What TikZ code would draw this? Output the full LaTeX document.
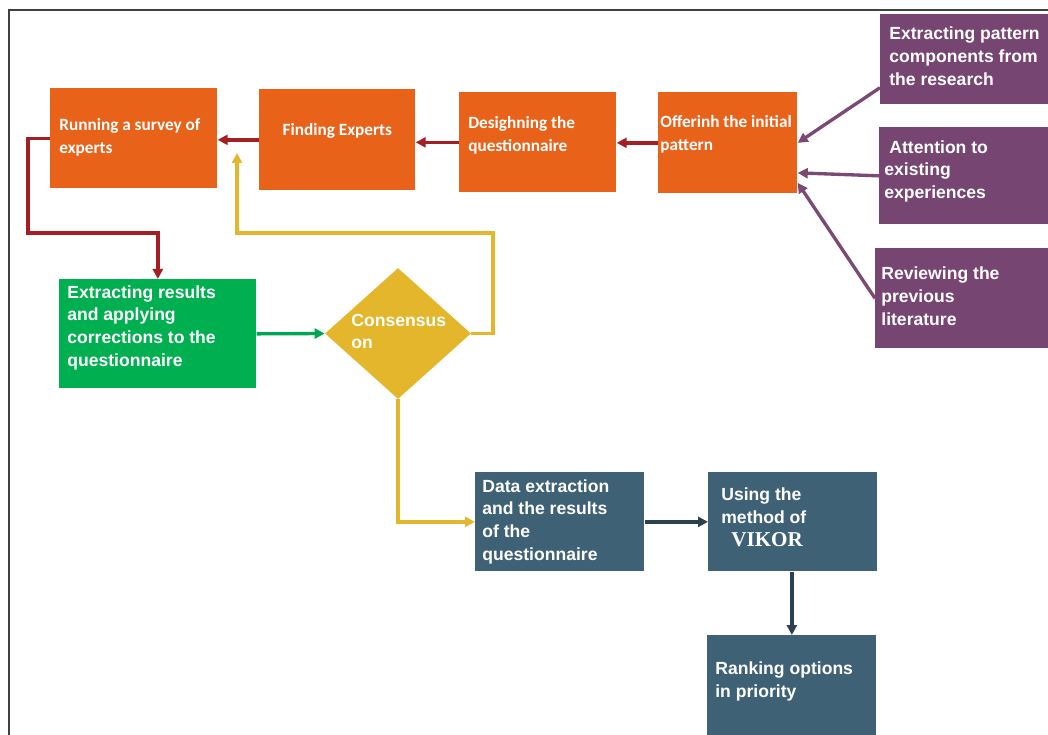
\documentclass[tikz,border=0pt]{standalone}
\usepackage{fontspec}
\setmainfont{Liberation Sans}
\newfontfamily\calibri{Carlito}
\newfontfamily\timesfont{Liberation Serif}
\usetikzlibrary{shapes.geometric,arrows.meta}

\definecolor{boxorange}{HTML}{E8621A}
\definecolor{boxpurple}{HTML}{764571}
\definecolor{boxgreen}{HTML}{00B050}
\definecolor{boxgold}{HTML}{E4B62B}
\definecolor{boxteal}{HTML}{3F6175}
\definecolor{arrowred}{HTML}{A31F24}
\definecolor{arrowdark}{HTML}{2B4150}
\definecolor{arrowpurple}{HTML}{7A4A74}
\definecolor{arrowgreen}{HTML}{00A651}

\tikzset{
  box/.style={rectangle, anchor=north west, inner sep=0pt},
  orangebox/.style={box, fill=boxorange},
  purplebox/.style={box, fill=boxpurple},
  greenbox/.style={box, fill=boxgreen},
  tealbox/.style={box, fill=boxteal},
  boxtext/.style={anchor=west, align=left, inner sep=0pt, text=white,
    font=\fontsize{10}{13}\selectfont\bfseries},
  orangetext/.style={boxtext, font=\calibri\fontsize{9.8}{13.6}\selectfont\bfseries},
  link/.style={->, line width=1.9pt}
}

\begin{document}
\begin{tikzpicture}[>={Triangle[length=2mm,width=2mm]}]

\useasboundingbox (0,0) rectangle (20.96,-14.7);
\draw[line width=0.7pt, black!75] (0.18,-14.7) -- (0.18,-0.2) -- (20.96,-0.2);

% top row
\node[orangebox, minimum width=3.34cm, minimum height=2cm] (survey) at (1.00,-1.76) {};
\node[orangebox, minimum width=3.12cm, minimum height=2.02cm] (experts) at (5.18,-1.78) {};
\node[orangebox, minimum width=3.14cm, minimum height=2cm] (design) at (9.18,-1.84) {};
\node[orangebox, minimum width=2.78cm, minimum height=2.02cm] (offer) at (13.16,-1.84) {};
\node[orangetext] (survey-t) at ([xshift=0.18cm, yshift=0.02cm]survey.west) {Running a survey of\\experts};
\node[orangetext, anchor=center] (experts-t) at ([yshift=0.17cm]experts.center) {Finding Experts};
\node[orangetext] (design-t) at ([xshift=0.18cm, yshift=0.14cm]design.west) {Desighning the\\questionnaire};
\node[orangetext] (offer-t) at ([xshift=0.04cm, yshift=0.17cm]offer.west) {Offerinh the initial\\pattern};

% sources of the pattern
\node[purplebox, minimum width=3.6cm, minimum height=1.8cm] (research) at (17.60,-0.28) {};
\node[purplebox, minimum width=3.6cm, minimum height=1.94cm] (experience) at (17.58,-2.54) {};
\node[purplebox, minimum width=3.6cm, minimum height=2cm] (literature) at (17.50,-4.96) {};
\node[boxtext] (research-t) at ([xshift=0.18cm, yshift=0.06cm]research.west) {Extracting pattern\\components from\\the research};
\node[boxtext] (experience-t) at ([xshift=0.1cm, yshift=0.09cm]experience.west) {\hspace*{0.1cm}Attention to\\existing\\experiences};
\node[boxtext] (literature-t) at ([xshift=0.12cm, yshift=0.04cm]literature.west) {Reviewing the\\previous\\literature};

% consensus loop
\node[greenbox, minimum width=3.94cm, minimum height=2.18cm] (results) at (1.18,-5.58) {};
\node[boxtext] (results-t) at ([xshift=0.16cm, yshift=0.12cm]results.west) {Extracting results\\and applying\\corrections to the\\questionnaire};
\node[diamond, fill=boxgold, minimum width=2.92cm, minimum height=2.62cm, inner sep=0pt] (consensus) at (7.96,-6.67) {};
\node[boxtext] (consensus-t) at (7.02,-6.63) {Consensus\\on};

% final steps
\node[tealbox, minimum width=3.38cm, minimum height=1.98cm] (data) at (9.50,-9.44) {};
\node[tealbox, minimum width=3.38cm, minimum height=1.98cm] (vikor) at (14.16,-9.44) {};
\node[tealbox, minimum width=3.38cm, minimum height=2cm] (ranking) at (14.14,-12.70) {};
\node[boxtext] (data-t) at ([xshift=0.14cm]data.west) {Data extraction\\and the results\\of the\\questionnaire};
\node[boxtext] (vikor-t) at ([xshift=0.26cm, yshift=0.09cm]vikor.west)
  {Using the\\method of\\\hspace*{0.2cm}{\timesfont\fontsize{12}{13}\selectfont VIKOR}};
\node[boxtext] (ranking-t) at ([xshift=0.16cm, yshift=0.07cm]ranking.west) {Ranking options\\in priority};

\coordinate (downbend) at (0.56,-4.66);
\coordinate (loopturn) at (9.86,-4.66);
\coordinate (loopend) at (4.74,-3.06);

\draw[link, arrowred] (experts.west) -- (survey.east |- experts.west);
\draw[link, arrowred] (design.west) -- (experts.east |- design.west);
\draw[link, arrowred] (offer.west) -- (design.east |- offer.west);
\draw[link, arrowred] (survey.west) -| (downbend) -| (results.north);

\draw[link, arrowpurple] ([yshift=0.34cm]research.south west) -- (offer.east);
\draw[link, arrowpurple] (experience.west) -- ([yshift=-0.6cm]offer.east);
\draw[link, arrowpurple] (literature.west) -- ([yshift=-0.8cm]offer.east);

\draw[link, arrowgreen] (results.east) -- (consensus.west);
\draw[link, boxgold] (consensus.east) -| (loopturn) -| (loopend);
\draw[link, boxgold] (consensus.south) |- (data.west);

\draw[link, arrowdark] (data.east) -- (vikor.west);
\draw[link, arrowdark] (ranking.north |- vikor.south) -- (ranking.north);

\end{tikzpicture}
\end{document}
